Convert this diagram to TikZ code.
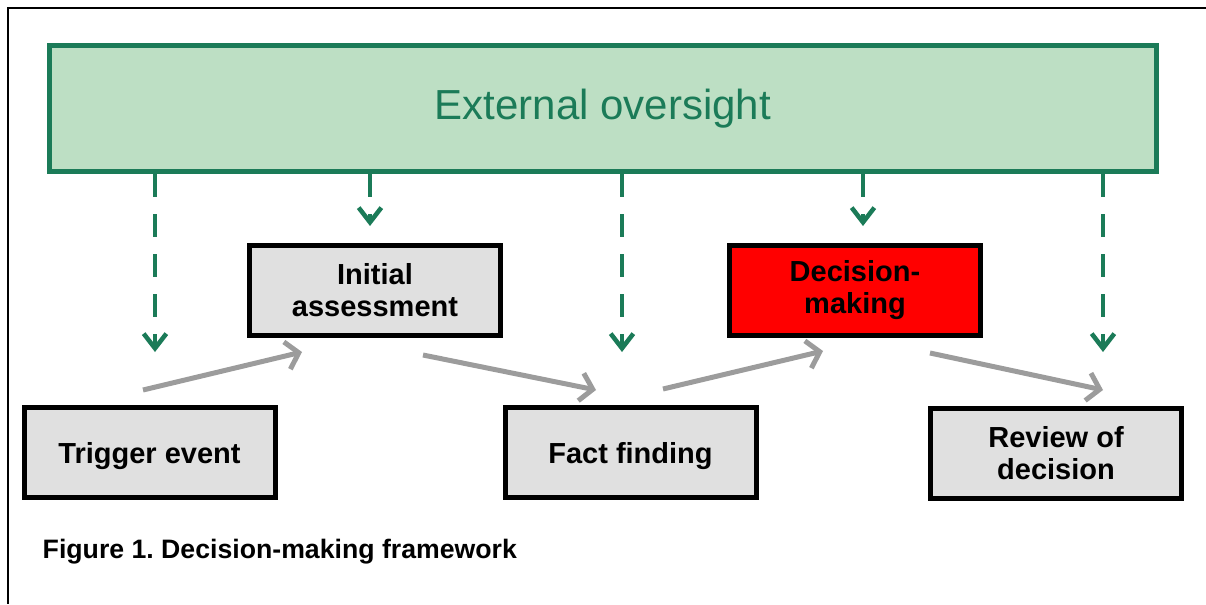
\documentclass[tikz,border=0pt]{standalone}
\usepackage{fontspec}
\setmainfont{Liberation Sans}
\usetikzlibrary{arrows.meta}
\definecolor{ovgreen}{HTML}{1B7B58}
\definecolor{ovfill}{HTML}{BDDFC4}
\definecolor{stagegray}{HTML}{E0E0E0}
\definecolor{flowgray}{HTML}{9C9C9C}
\newcommand{\stagefont}{\fontsize{21.75}{24}\selectfont\bfseries}
\frenchspacing

\begin{document}
\begin{tikzpicture}[x=0.75pt,y=-0.75pt,
    stagebox/.style={draw=black, line width=3.75pt, fill=stagegray, inner sep=0pt,
      minimum width=188.25pt, minimum height=67.5pt, align=center, font=\stagefont},
    oneline/.style={text depth=0pt},
    watch/.style={-{Straight Barb[length=11pt,width=17pt,line width=3.4pt]}, ovgreen,
      line width=3pt, dash pattern=on 17.25pt off 12.75pt},
    flow/.style={-{Straight Barb[length=9pt,width=21pt]}, flowgray, line width=3.75pt}]

  \useasboundingbox (0,0) rectangle (1206,604);
  \draw[line width=1.5pt] (1206,8) -| (8,604);

  \node (ext) [draw=ovgreen, fill=ovfill, line width=3.75pt, minimum width=830.25pt,
    minimum height=94.5pt, text=ovgreen, font=\fontsize{31.5}{36}\selectfont]
    at (603,108.5) {External oversight};

  \node (trig) [stagebox, oneline] at (149.5,452.5) {Trigger event};
  \node (init) [stagebox] at (375,290.5)   {Initial\\assessment};
  \node (fact) [stagebox, oneline] at (630.5,452.5) {Fact finding};
  \node (dec)  [stagebox, fill=red] at (855,290.5) {Decision-\\making};
  \node (rev)  [stagebox] at (1056,453.5)  {Review of\\decision};

  \node (cap) [anchor=base west, font=\fontsize{20}{24}\selectfont\bfseries]
    at (38,558) {Figure 1. Decision-making framework};

  %% -- ends of the oversight arrows
  \coordinate (w1) at (155,352);
  \coordinate (w2) at (370,226);
  \coordinate (w3) at (622,352);
  \coordinate (w4) at (863,226);
  \coordinate (w5) at (1103,352);

  %% -- ends of the flow arrows
  \coordinate (f1a) at (143,390);  \coordinate (f1b) at (302,352);
  \coordinate (f2a) at (423,355);  \coordinate (f2b) at (596,390);
  \coordinate (f3a) at (663,389);  \coordinate (f3b) at (823,351);
  \coordinate (f4a) at (930,353);  \coordinate (f4b) at (1103,390);

  %% -- edges
  %% oversight
  \draw[watch] (ext.south -| w1) -- (w1);
  \draw[watch] (ext.south -| w2) -- (w2);
  \draw[watch] (ext.south -| w3) -- (w3);
  \draw[watch] (ext.south -| w4) -- (w4);
  \draw[watch] (ext.south -| w5) -- (w5);
  %% flow
  \draw[flow] (f1a) -- (f1b);
  \draw[flow] (f2a) -- (f2b);
  \draw[flow] (f3a) -- (f3b);
  \draw[flow] (f4a) -- (f4b);

\end{tikzpicture}
\end{document}
